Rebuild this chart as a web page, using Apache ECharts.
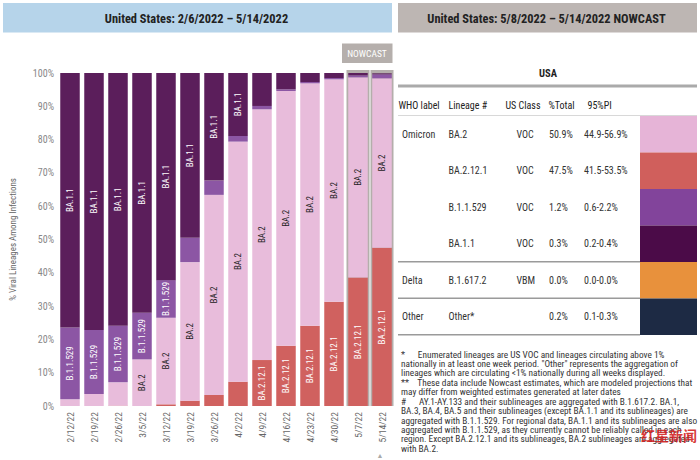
<!DOCTYPE html>
<html><head><meta charset="utf-8">
<script src="https://cdn.jsdelivr.net/npm/echarts@6/dist/echarts.min.js"></script>
<style>html,body{margin:0;padding:0;background:#fff}#c{width:700px;height:460px}</style>
</head><body><div id="c"></div>
<script>
const categories = ['2/12/22','2/19/22','2/26/22','3/5/22','3/12/22','3/19/22','3/26/22','4/2/22','4/9/22','4/16/22','4/23/22','4/30/22','5/7/22','5/14/22'];
const nowcastCategories = ['5/7/22','5/14/22'];
const ba2121 = [0, 0, 0.1, 0, 0.5, 1.6, 3.3, 7.3, 13.8, 18.1, 24.1, 31.3, 38.6, 47.5];
const ba2    = [2.0, 3.6, 7.0, 14.0, 26.0, 41.6, 60.1, 72.1, 75.3, 76.5, 72.8, 66.8, 60.1, 50.9];
const b11529 = [21.6, 19.2, 17.0, 14.0, 11.3, 7.3, 4.3, 1.7, 1.0, 0.5, 0.4, 0.4, 0.6, 1.2];
const ba11   = [76.4, 77.2, 75.9, 72.0, 62.2, 49.5, 32.3, 18.9, 9.9, 4.9, 2.7, 1.5, 0.7, 0.3];

const tableWho     = ['Omicron','','','','Delta','Other'];
const tableLineage = ['BA.2','BA.2.12.1','B.1.1.529','BA.1.1','B.1.617.2','Other*'];
const tableClass   = ['VOC','VOC','VOC','VOC','VBM',''];
const tablePct     = ['50.9%','47.5%','1.2%','0.3%','0.0%','0.2%'];
const tablePI      = ['44.9-56.9%','41.5-53.5%','0.6-2.2%','0.2-0.4%','0.0-0.0%','0.1-0.3%'];
const swatchColors = ['#e6b4d7','#d05f5c','#82449b','#4b0b48','#e8913c','#1d2a44'];
const tableHeaders = ['WHO label','Lineage #','US Class','%Total','95%PI'];

const footnoteLines = [
 '*      Enumerated lineages are US VOC and lineages circulating above 1%',
 'nationally in at least one week period. "Other" represents the aggregation of',
 'lineages which are circulating <1% nationally during all weeks displayed.',
 '**    These data include Nowcast estimates, which are modeled projections that',
 'may differ from weighted estimates generated at later dates',
 '#      AY.1-AY.133 and their sublineages are aggregated with B.1.617.2. BA.1,',
 'BA.3, BA.4, BA.5 and their sublineages (except BA.1.1 and its sublineages) are',
 'aggregated with B.1.1.529. For regional data, BA.1.1 and its sublineages are also',
 'aggregated with B.1.1.529, as they currently cannot be reliably called in each',
 'region. Except BA.2.12.1 and its sublineages, BA.2 sublineages are aggregated',
 'with BA.2.'
];

const F = '"Roboto Condensed","Liberation Sans",Arial,sans-serif';
const chart = echarts.init(document.getElementById('c'), null, {renderer:'svg', width:700, height:460});

function lbl(color){
  return {show:true, position:'inside', rotate:90, color:color, fontFamily:F, fontSize:9,
    formatter: p => p.value >= 10 ? p.seriesName : ''};
}
function barSeries(name, data, color, lc){
  return {type:'bar', name:name, stack:'all', data:data, barWidth:19.5, z:3,
    itemStyle:{color:color}, label:lbl(lc)};
}
function txt(x, y, t, font, fill, align){
  return {type:'text', x:x, y:y, style:{text:t, font:font, fill:fill, textAlign:align||'left', textVerticalAlign:'middle'}};
}

const g = [];
// headers
g.push({type:'rect', shape:{x:3,y:3,width:389,height:29.5}, style:{fill:'#b6d4ea'}});
g.push(txt(196.5, 18, 'United States: 2/6/2022 – 5/14/2022', 'bold 12.4px '+F, '#222', 'center'));
g.push({type:'rect', shape:{x:398,y:3,width:299,height:29.5}, style:{fill:'#bdb6b3'}});
g.push(txt(546.5, 18, 'United States: 5/8/2022 – 5/14/2022 NOWCAST', 'bold 12.4px '+F, '#222', 'center'));
// nowcast tag
g.push({type:'rect', shape:{x:342,y:43.5,width:50.5,height:19.5}, style:{fill:'#b5afac'}});
g.push(txt(367, 53.5, 'NOWCAST', '9.5px '+F, '#fff', 'center'));
// table
g.push(txt(548, 73.5, 'USA', 'bold 10.5px '+F, '#222', 'center'));
g.push({type:'rect', shape:{x:398,y:84.5,width:299,height:3}, style:{fill:'#aaaaaa'}});
const hx = [398.5, 448.5, 505.5, 548.5, 587.5];
tableHeaders.forEach((t,i)=>g.push(txt(hx[i], 105, t, '10px '+F, '#222')));
g.push({type:'rect', shape:{x:398,y:115,width:299,height:1}, style:{fill:'#d8d8d8'}});
const rowTop = 116, rowH = 36.5;
const cx = [402, 448.5, 516.5, 549, 584];
for (let i=0;i<6;i++){
  const yc = rowTop + rowH*i + rowH/2;
  [tableWho[i], tableLineage[i], tableClass[i], tablePct[i], tablePI[i]].forEach((t,j)=>{
    if (t) g.push(txt(cx[j], yc, t, '10px '+F, '#333'));
  });
  g.push({type:'rect', shape:{x:640,y:rowTop+rowH*i,width:57,height:rowH}, style:{fill:swatchColors[i]}});
}
[3,4,5].forEach(k=>{
  g.push({type:'rect', shape:{x:398,y:rowTop+rowH*(k+1)-1,width:242,height:1.5}, style:{fill:'#9a9a9a'}});
});
// footnotes (one text block)
g.push({type:'text', x:401, y:354 - 9.43/2, style:{text:footnoteLines.join('\n'), font:'9.3px '+F, lineHeight:9.43, fill:'#333', textAlign:'left', textVerticalAlign:'top'}});
g.push({type:'text', x:641, y:435, z:10, style:{text:'红星新闻', font:'bold 14px "Noto Sans CJK SC",sans-serif', fill:'rgba(210,30,30,0.9)', textAlign:'left', textVerticalAlign:'middle'}});
g.push(txt(380, 456, '▲', '7px '+F, '#aaa', 'center'));

chart.setOption({
  animation:false,
  textStyle:{fontFamily:F},
  grid:{left:40, right:306, top:73, bottom:54},
  xAxis:{type:'category', data:categories, axisLine:{show:false}, axisTick:{show:false},
    axisLabel:{rotate:90, color:'#666', fontSize:9.5, fontFamily:F, margin:6, interval:0}},
  yAxis:{type:'value', min:0, max:100, interval:10,
    name:'% Viral Lineages Among Infections', nameLocation:'middle', nameRotate:90, nameGap:41,
    nameTextStyle:{color:'#666', fontSize:9, fontFamily:F},
    axisLine:{show:false}, axisTick:{show:false}, splitLine:{show:false},
    axisLabel:{formatter:'{value}%', color:'#888', fontSize:10, fontFamily:F, margin:4}},
  series:[
    {type:'custom', z:1, data: nowcastCategories.map(c=>[c,100]),
      renderItem:(params, api)=>{
        const b = api.coord([api.value(0), 0]);
        const t = api.coord([api.value(0), 100]);
        const w = api.size([1,0])[0];
        return {type:'rect', shape:{x:b[0]-w/2+0.5, y:t[1]-3, width:w-1, height:b[1]-t[1]+3}, style:{fill:'#b4aeab'}};
      }},
    barSeries('BA.2.12.1', ba2121, '#d0615f', '#fff'),
    barSeries('BA.2', ba2, '#e8bcdb', '#222'),
    barSeries('B.1.1.529', b11529, '#8c56a4', '#fff'),
    barSeries('BA.1.1', ba11, '#5b1e5b', '#fff')
  ],
  graphic:{elements:g}
});
</script></body></html>
